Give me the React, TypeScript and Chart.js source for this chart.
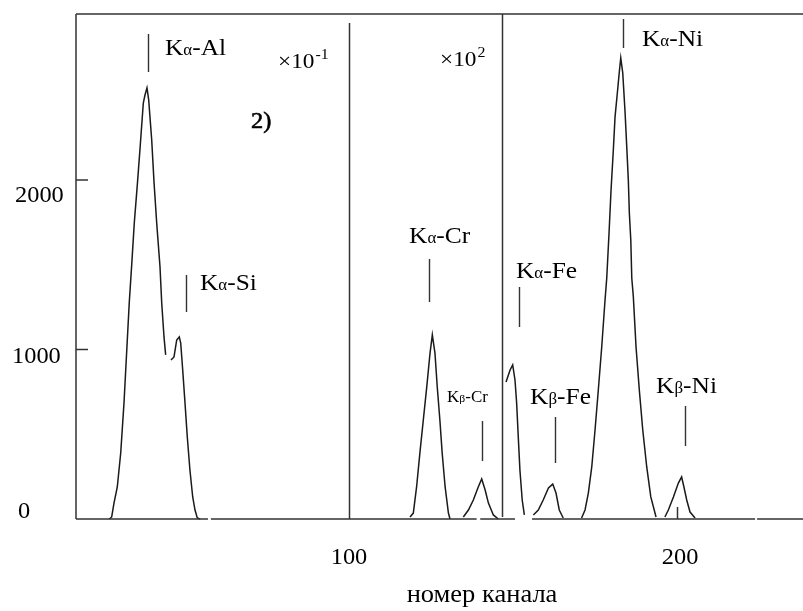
import React, { useEffect, useRef } from "react";
import { Chart, registerables } from "chart.js";

Chart.register(...registerables);

// ---- data ----
// spectrum (channel number, counts); null = break in the trace
const spectrumChannels = [
  26.9, 27.65, 28.35, 29.36, 30.4, 31.4, 32.2, 33.0, 33.75, 34.54, 35.46, 36.37, 37.29, 37.8, 38.41,
  38.93, 39.85, 40.55, 41.37, 42.38, 42.9, 43.6, 44.1, 44.9,
  45.73, 46.65, 47.47, 48.26, 48.69, 49.3, 50.0, 50.7, 51.5, 52.35, 53.05, 53.75, 54.57, 80,
  118.6, 119.6, 120.6, 121.6, 122.65, 123.7, 124.7, 125.4, 126.2, 126.9, 127.7, 128.4, 129.3, 130.3, 130.8, 132,
  134.85, 136.4, 137.9, 139.4, 140.45, 141.5, 142.5, 144.0, 145.5, 146.5,
  147.87, 149.1, 149.9, 150.6, 151.1, 151.6, 152.1, 152.8, 153.45, 155,
  156.2, 157.7, 159.2, 160.8, 162.1, 163.1, 164.1, 165.3, 168,
  170.9, 171.95, 172.96, 174.0, 175.0, 176.0, 177.04, 178.05, 178.57, 179.27, 179.88, 180.58, 181.1, 181.8,
  182.4, 182.84, 183.45, 184.15, 184.67, 185.15, 185.46, 185.9, 186.2, 186.68, 187.5, 188.5, 189.55, 190.76,
  192.0, 193.6, 195,
  196.3, 197.35, 198.9, 200.4, 201.4, 202.1, 202.95, 203.96, 205.5,
];
const spectrumCounts = [
  0, 12, 94, 189, 389, 684, 979, 1274, 1499, 1746, 1971, 2206, 2454, 2501, 2543,
  2472, 2236, 1988, 1746, 1487, 1274, 1074, 968, null,
  938, 956, 1056, 1074, 1038, 879, 684, 484, 289, 130, 53, 6, 0, null,
  12, 35, 189, 389, 584, 779, 979, 1086, 979, 779, 584, 389, 189, 35, 0, null,
  12, 53, 112, 189, 236, 171, 94, 24, 0, null,
  808, 879, 909, 820, 684, 484, 289, 112, 24, null,
  24, 53, 112, 183, 206, 153, 53, 6, null,
  6, 53, 153, 307, 525, 761, 1015, 1292, 1422, 1687, 1941, 2177, 2372, 2513,
  2637, 2720, 2631, 2401, 2195, 2000, 1805, 1646, 1422, 1310, 1015, 761, 525, 307,
  130, 12, null,
  12, 53, 130, 212, 248, 189, 112, 41, 6,
];

// zero line of the spectrum (with the breaks seen in the original)
const baselineChannels = [16.77, 57.0, 57.4, 57.9, 138.9, 139.4, 140.0, 150.6, 153, 155.8, 223.8, 224.1, 224.4, 238.4];
const baselineCounts = [0, 0, null, 0, 0, null, 0, 0, null, 0, 0, null, 0, 0];

const xMin = 16.77;
const xMax = 238.4;
const yMin = 0;
const yMax = 2979;

const yTickValues = [0, 1000, 2000];
const yTickLabels = ["0", "1000", "2000"];
const xTickValues = [100, 200];
const xTickLabels = ["100", "200"];
const xAxisTitle = "номер канала";

// peak labels: prefix|greek|suffix, anchored at (channel, counts) of the text baseline
const peakLabelText = ["K|α|-Al", "K|α|-Si", "K|β|-Cr", "K|α|-Cr", "K|α|-Fe", "K|β|-Fe", "K|α|-Ni", "K|β|-Ni"];
const peakLabelChannel = [43.9, 54.57, 129.9, 118.3, 150.9, 155.2, 189.3, 193.6];
const peakLabelCounts = [2737, 1351, 690, 1628, 1422, 678, 2791, 743];
const peakLabelSmall = [false, false, true, false, false, false, false, false];

// marker strokes: channel, from counts, to counts
const markerChannel = [38.72, 50.3, 124.4, 140.5, 151.8, 162.8, 183.5, 202.4];
const markerFrom = [2637, 1221, 1280, 342, 1133, 330, 2779, 431];
const markerTo = [2861, 1440, 1534, 578, 1369, 602, 2950, 667];

// scale factor notes
const noteText = ["×10|-1", "×10|2", "2)|"];
const noteChannel = [78.35, 127.74, 70.12];
const noteCounts = [2661, 2673, 2307];

// range dividers: channel, from counts, to counts
const dividerChannel = [100, 146.6];
const dividerFrom = [0, 12];
const dividerTo = [2926, yMax];

const SERIF = '"Liberation Serif", "Times New Roman", serif';
const INK = "#000";

function drawStretched(ctx: CanvasRenderingContext2D, text: string, x: number, y: number, sx: number, stroke = 0) {
  ctx.save();
  ctx.translate(x, y);
  ctx.scale(sx, 1);
  ctx.fillText(text, 0, 0);
  if (stroke > 0) {
    ctx.lineWidth = stroke;
    ctx.strokeText(text, 0, 0);
  }
  const w = ctx.measureText(text).width * sx;
  ctx.restore();
  return w;
}

const overlayPlugin = {
  id: "overlay",
  afterDatasetsDraw(chart: any) {
    const ctx: CanvasRenderingContext2D = chart.ctx;
    const xs = chart.scales.x;
    const ys = chart.scales.y;
    const ca = chart.chartArea;
    const SX = 1.06;
    ctx.save();
    ctx.strokeStyle = "#333";
    ctx.lineWidth = 1.5;
    // left axis and top frame line
    ctx.beginPath();
    ctx.moveTo(ca.left, ys.getPixelForValue(yMax));
    ctx.lineTo(ca.left, ys.getPixelForValue(0));
    ctx.moveTo(ca.left, ys.getPixelForValue(yMax));
    ctx.lineTo(xs.getPixelForValue(xMax), ys.getPixelForValue(yMax));
    ctx.stroke();
    // dividers
    ctx.beginPath();
    dividerChannel.forEach((c, i) => {
      const px = Math.round(xs.getPixelForValue(c)) + 0.5;
      ctx.moveTo(px, ys.getPixelForValue(dividerFrom[i]));
      ctx.lineTo(px, ys.getPixelForValue(dividerTo[i]));
    });
    ctx.stroke();
    // y ticks (inward)
    ctx.beginPath();
    yTickValues.forEach((v) => {
      if (v === 0) return;
      const py = ys.getPixelForValue(v);
      ctx.moveTo(ca.left, py);
      ctx.lineTo(ca.left + 12, py);
    });
    // x tick at 200 (inward)
    const p200 = Math.round(xs.getPixelForValue(200)) + 0.5;
    ctx.moveTo(p200, ys.getPixelForValue(0));
    ctx.lineTo(p200, ys.getPixelForValue(0) - 12);
    ctx.stroke();
    // peak markers
    ctx.lineWidth = 1.4;
    ctx.beginPath();
    markerChannel.forEach((c, i) => {
      const px = Math.round(xs.getPixelForValue(c)) + 0.5;
      ctx.moveTo(px, ys.getPixelForValue(markerFrom[i]));
      ctx.lineTo(px, ys.getPixelForValue(markerTo[i]));
    });
    ctx.stroke();

    ctx.fillStyle = INK;
    ctx.strokeStyle = INK;
    ctx.textBaseline = "alphabetic";
    ctx.textAlign = "left";
    // tick labels
    const yLabelOffsets = [-1, 13.5, 22];
    const yLabelLeft = [-58, -64, -61];
    yTickValues.forEach((v, i) => {
      ctx.font = `23px ${SERIF}`;
      drawStretched(ctx, yTickLabels[i], ca.left + yLabelLeft[i], ys.getPixelForValue(v) + yLabelOffsets[i], SX);
    });
    xTickValues.forEach((v, i) => {
      ctx.font = `23px ${SERIF}`;
      const w = ctx.measureText(xTickLabels[i]).width * SX;
      const dx = i === 0 ? 0 : 3;
      drawStretched(ctx, xTickLabels[i], xs.getPixelForValue(v) - w / 2 + dx, ys.getPixelForValue(0) + 45, SX);
    });
    // axis title
    ctx.font = `25px ${SERIF}`;
    {
      const w = ctx.measureText(xAxisTitle).width * SX;
      drawStretched(ctx, xAxisTitle, 482 - w / 2 + (ca.left - 76), ys.getPixelForValue(0) + 83, SX);
    }
    // peak labels
    peakLabelText.forEach((t, i) => {
      const [a, g, b] = t.split("|");
      const big = peakLabelSmall[i] ? 16 : 24;
      const small = Math.round(big * 0.68);
      let x = xs.getPixelForValue(peakLabelChannel[i]);
      const y = ys.getPixelForValue(peakLabelCounts[i]);
      ctx.font = `${big}px ${SERIF}`;
      x += drawStretched(ctx, a, x, y, SX);
      ctx.font = `${small}px ${SERIF}`;
      x += drawStretched(ctx, g, x, y, SX);
      ctx.font = `${big}px ${SERIF}`;
      drawStretched(ctx, b, x, y, SX);
    });
    // scale notes with superscripts
    noteText.forEach((t, i) => {
      const [a, sup] = t.split("|");
      let x = xs.getPixelForValue(noteChannel[i]);
      const y = ys.getPixelForValue(noteCounts[i]);
      ctx.font = sup ? `22px ${SERIF}` : `23px ${SERIF}`;
      x += drawStretched(ctx, a, x, y, SX, sup ? 0 : 0.6);
      if (sup) {
        ctx.font = `15px ${SERIF}`;
        drawStretched(ctx, sup, x + 1, y - 9, SX);
      }
    });
    ctx.restore();
  },
};

export default function App() {
  const canvasRef = useRef<HTMLCanvasElement | null>(null);

  useEffect(() => {
    const prevMargin = document.body.style.margin;
    document.body.style.margin = "0";
    const canvas = canvasRef.current;
    if (!canvas) return;
    const spectrum = spectrumChannels.map((c, i) => ({ x: c, y: spectrumCounts[i] }));
    const baseline = baselineChannels.map((c, i) => ({ x: c, y: baselineCounts[i] }));
    const chart = new Chart(canvas, {
      type: "line",
      data: {
        datasets: [
          {
            label: "baseline",
            data: baseline as any,
            borderColor: "#333",
            borderWidth: 1.6,
            pointRadius: 0,
            spanGaps: false,
            clip: false as any,
            tension: 0,
          },
          {
            label: "spectrum",
            data: spectrum as any,
            borderColor: "#1a1a1a",
            borderWidth: 1.5,
            pointRadius: 0,
            spanGaps: false,
            clip: false as any,
            tension: 0,
          },
        ],
      },
      options: {
        animation: false,
        responsive: false,
        maintainAspectRatio: false,
        devicePixelRatio: 1,
        layout: { padding: { left: 76, top: 14, right: 0, bottom: 92 } },
        plugins: { legend: { display: false }, tooltip: { enabled: false } },
        events: [],
        scales: {
          x: { type: "linear", min: xMin, max: xMax, display: false },
          y: { type: "linear", min: yMin, max: yMax, display: false },
        },
      },
      plugins: [overlayPlugin],
    });
    return () => {
      chart.destroy();
      document.body.style.margin = prevMargin;
    };
  }, []);

  return (
    <div style={{ position: "fixed", left: 0, top: 0, width: 803, height: 611, background: "#fff" }}>
      <canvas ref={canvasRef} width={803} height={611} style={{ width: 803, height: 611, display: "block" }} />
    </div>
  );
}
